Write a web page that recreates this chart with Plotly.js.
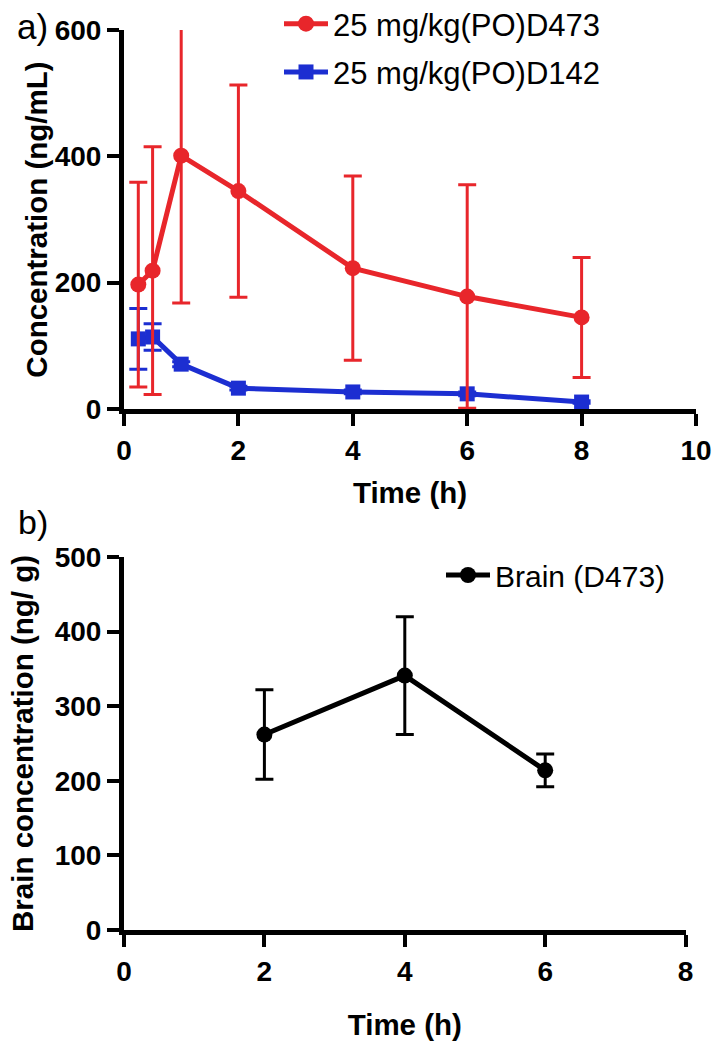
<!DOCTYPE html>
<html>
<head>
<meta charset="utf-8">
<script src="https://cdn.plot.ly/plotly-3.0.1.min.js"></script>
<style>html,body{margin:0;padding:0;background:#fff;}#chart{width:717px;height:1046px;}</style>
</head>
<body>
<div id="chart"></div>
<script>
// Panel a: plasma concentration (ng/mL)
const timeA = [0.25, 0.5, 1, 2, 4, 6, 8];
const d473Mean = [197, 219, 401, 345, 223, 178, 145];
const d473Err  = [162, 196, 233, 168, 146, 177, 95];
const d142Mean = [111, 114, 71, 33, 27, 24, 11];
const d142Err  = [48, 21, 4, 3, 3, 3, 2];
const nameD473 = '25 mg/kg(PO)D473';
const nameD142 = '25 mg/kg(PO)D142';

// Panel b: brain concentration (ng/g)
const timeB = [2, 4, 6];
const brainMean = [262, 341, 214];
const brainErr  = [60, 79, 22];
const nameBrain = 'Brain (D473)';

const RED = '#e8262b', BLUE = '#1c2ed1', BLACK = '#000000';
const FONT = 'Liberation Sans, Arial, Helvetica, sans-serif';

// pixel -> paper helpers (plot area: x 124..696, y 30..930)
const PL = 124, PW = 572, PB = 930, PH = 900;
const px = v => (v - PL) / PW;
const py = v => (PB - v) / PH;

const traces = [
  {x: timeA, y: d142Mean, name: nameD142, type: 'scatter', mode: 'lines+markers',
   xaxis: 'x', yaxis: 'y', legend: 'legend', legendgroup: 'b', legendrank: 2,
   line: {color: BLUE, width: 5}, marker: {symbol: 'square', size: 15, color: BLUE},
   error_y: {type: 'data', array: d142Err, visible: true, color: BLUE, thickness: 3, width: 9}},
  {x: timeA, y: d473Mean, name: nameD473, type: 'scatter', mode: 'lines+markers',
   xaxis: 'x', yaxis: 'y', legend: 'legend', legendgroup: 'a', legendrank: 1,
   line: {color: RED, width: 5}, marker: {symbol: 'circle', size: 16, color: RED},
   error_y: {type: 'data', array: d473Err, visible: true, color: RED, thickness: 3, width: 9}},
  {x: timeB, y: brainMean, name: nameBrain, type: 'scatter', mode: 'lines+markers',
   xaxis: 'x2', yaxis: 'y2', legend: 'legend2',
   line: {color: BLACK, width: 5}, marker: {symbol: 'circle', size: 16, color: BLACK},
   error_y: {type: 'data', array: brainErr, visible: true, color: BLACK, thickness: 3, width: 9}}
];

const tickFont = () => ({family: FONT, size: 28, color: BLACK, weight: 'bold'});
const titleFont = () => ({family: FONT, size: 29.5, color: BLACK, weight: 'bold'});
const axisCommon = () => ({
  showgrid: false, zeroline: false, showline: true, linecolor: BLACK, linewidth: 5,
  ticks: 'outside', ticklen: 12, tickwidth: 4, tickcolor: BLACK,
  tickfont: tickFont(), automargin: false, fixedrange: true
});

const layout = {
  width: 717, height: 1046,
  margin: {l: 124, r: 21, t: 30, b: 116, autoexpand: false},
  paper_bgcolor: '#ffffff', plot_bgcolor: '#ffffff',
  showlegend: true,
  xaxis: Object.assign(axisCommon(), {domain: [0, 1], anchor: 'y', range: [0, 10], dtick: 2, tick0: 0,
    title: {text: 'Time (h)', font: titleFont(), standoff: 19}}),
  yaxis: Object.assign(axisCommon(), {domain: [py(409), 1], anchor: 'x', range: [0, 600], dtick: 200, tick0: 0,
    title: {text: 'Concentration (ng/mL)', font: titleFont(), standoff: 0}}),
  xaxis2: Object.assign(axisCommon(), {domain: [0, px(685.6)], anchor: 'y2', range: [0, 8], dtick: 2, tick0: 0,
    title: {text: 'Time (h)', font: titleFont(), standoff: 30}}),
  yaxis2: Object.assign(axisCommon(), {domain: [0, py(557)], anchor: 'x2', range: [0, 500], dtick: 100, tick0: 0,
    title: {text: 'Brain concentration (ng/ g)', font: titleFont(), standoff: 14}}),
  legend: {xref: 'paper', yref: 'paper', x: px(279), y: py(-3),
    xanchor: 'left', yanchor: 'top', bgcolor: 'rgba(0,0,0,0)', borderwidth: 0,
    font: {family: FONT, size: 31, color: BLACK}, itemwidth: 44, tracegroupgap: 5,
    traceorder: 'grouped'},
  legend2: {xref: 'paper', yref: 'paper', x: px(441), y: py(549),
    xanchor: 'left', yanchor: 'top', bgcolor: 'rgba(0,0,0,0)', borderwidth: 0,
    font: {family: FONT, size: 30, color: BLACK}, itemwidth: 44},
  annotations: [
    {text: 'a)', xref: 'paper', yref: 'paper', x: px(32), y: py(27),
     xanchor: 'center', yanchor: 'middle', showarrow: false, font: {family: FONT, size: 35, color: BLACK}},
    {text: 'b)', xref: 'paper', yref: 'paper', x: px(33), y: py(522),
     xanchor: 'center', yanchor: 'middle', showarrow: false, font: {family: FONT, size: 34, color: BLACK}}
  ]
};

Plotly.newPlot('chart', traces, layout, {staticPlot: true, displayModeBar: false});
</script>
</body>
</html>
